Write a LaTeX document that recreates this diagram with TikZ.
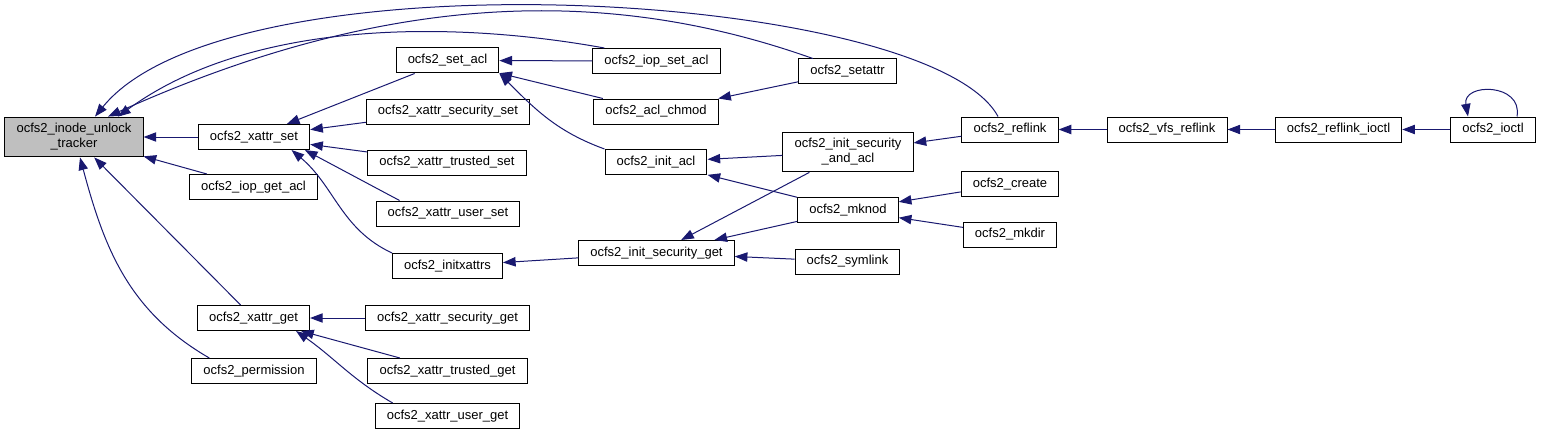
\documentclass[tikz,border=0pt]{standalone}
\usepackage{fontspec}
\setmainfont{Liberation Sans}
\usepackage{xcolor}
\usetikzlibrary{arrows.meta}

\definecolor{edgeblue}{HTML}{191970}

\begin{document}
\begin{tikzpicture}[
      x=0.75pt, y=-0.75pt,
      every node/.style={draw=black, fill=white, line width=0.75pt, inner xsep=8.7pt, inner ysep=4.8pt,
        minimum height=18.75pt, align=center, font=\fontsize{9.75}{11.25}\selectfont},
      edge/.style={draw=edgeblue, line width=0.75pt, -{Triangle[length=9.5pt, width=7pt]}}
    ]
  \useasboundingbox (0,0) rectangle (1541,435);

  \node[fill=black!25] (unlock) at (74,137) {ocfs2\_inode\_unlock\\\_tracker};

  \node (xset) at (254,137) {ocfs2\_xattr\_set};
  \node (getacl) at (253.5,187) {ocfs2\_iop\_get\_acl};
  \node (xget) at (253.5,318) {ocfs2\_xattr\_get};
  \node (perm) at (254,371) {ocfs2\_permission};

  \node (setacl) at (447.5,60.5) {ocfs2\_set\_acl};
  \node (secset) at (448,111.5) {ocfs2\_xattr\_security\_set};
  \node (trustset) at (447,162.5) {ocfs2\_xattr\_trusted\_set};
  \node (userset) at (448,213.5) {ocfs2\_xattr\_user\_set};
  \node (initx) at (447.5,266) {ocfs2\_initxattrs};
  \node (secget) at (447.5,318) {ocfs2\_xattr\_security\_get};
  \node (trustget) at (447.5,371) {ocfs2\_xattr\_trusted\_get};
  \node (userget) at (447.5,416) {ocfs2\_xattr\_user\_get};

  \node (iopset) at (656.5,61) {ocfs2\_iop\_set\_acl};
  \node (chmod) at (656,111.5) {ocfs2\_acl\_chmod};
  \node (initacl) at (656,162) {ocfs2\_init\_acl};
  \node (initsecget) at (656.5,253) {ocfs2\_init\_security\_get};

  \node (setattr) at (847.5,71.5) {ocfs2\_setattr};
  \node (secacl) at (848,152) {ocfs2\_init\_security\\\_and\_acl};
  \node (mknod) at (848,210) {ocfs2\_mknod};
  \node (symlink) at (847.5,261.5) {ocfs2\_symlink};

  \node (reflink) at (1010,129.5) {ocfs2\_reflink};
  \node (create) at (1010,184) {ocfs2\_create};
  \node (mkdir) at (1010,234.5) {ocfs2\_mkdir};
  \node (vfs) at (1167,129.5) {ocfs2\_vfs\_reflink};
  \node (rioctl) at (1338.5,129.5) {ocfs2\_reflink\_ioctl};
  \node (ioctl) at (1493,129.5) {ocfs2\_ioctl};

  \draw[edge] (xset) -- (unlock);
  \draw[edge] (getacl) -- (unlock);
  \draw[edge] (xget) -- (unlock);
  \draw[edge] ([xshift=13.5pt]perm.north west) to[out=150,in=-75] ([xshift=4.5pt]unlock.south);
  \draw[edge] ([xshift=-9pt]reflink.north) .. controls (930,-10) and (230,-50) .. ([xshift=15.75pt]unlock.north);
  \draw[edge] ([xshift=-26pt]setattr.north) .. controls (620,-10) and (400,-15) .. ([xshift=25.5pt]unlock.north);
  \draw[edge] ([xshift=9pt]iopset.north west) .. controls (450,20) and (250,20) .. ([xshift=33pt]unlock.north);

  \draw[edge] (setacl) -- (xset);
  \draw[edge] (secset) -- (xset);
  \draw[edge] (trustset) -- (xset);
  \draw[edge] ([xshift=18pt]userset.north west) -- ([xshift=-4pt]xset.south east);
  \draw[edge] (initx.north west) to[out=155,in=-40] ([xshift=-14pt]xset.south east);

  \draw[edge] (iopset) -- (setacl);
  \draw[edge] (chmod) -- (setacl);
  \draw[edge] (initacl.north west) to[out=160,in=-45] (setacl.south east);

  \draw[edge] (setattr) -- (chmod);
  \draw[edge] (secacl) -- (initacl);
  \draw[edge] (mknod) -- (initacl);
  \draw[edge] (reflink) -- (secacl);
  \draw[edge] (secacl) -- (initsecget);
  \draw[edge] (mknod) -- (initsecget);
  \draw[edge] (symlink) -- (initsecget);
  \draw[edge] (initsecget) -- (initx);
  \draw[edge] (create) -- (mknod);
  \draw[edge] (mkdir) -- (mknod);

  \draw[edge] (vfs) -- (reflink);
  \draw[edge] (rioctl) -- (vfs);
  \draw[edge] (ioctl) -- (rioctl);
  \draw[edge] ([xshift=18pt]ioctl.north) to[out=80,in=100,looseness=1.8] ([xshift=-18.75pt]ioctl.north);

  \draw[edge] (secget) -- (xget);
  \draw[edge] (trustget) -- (xget);
  \draw[edge] ([xshift=13.5pt]userget.north west) to[out=150,in=-35] ([xshift=-10.5pt]xget.south east);
\end{tikzpicture}
\end{document}
